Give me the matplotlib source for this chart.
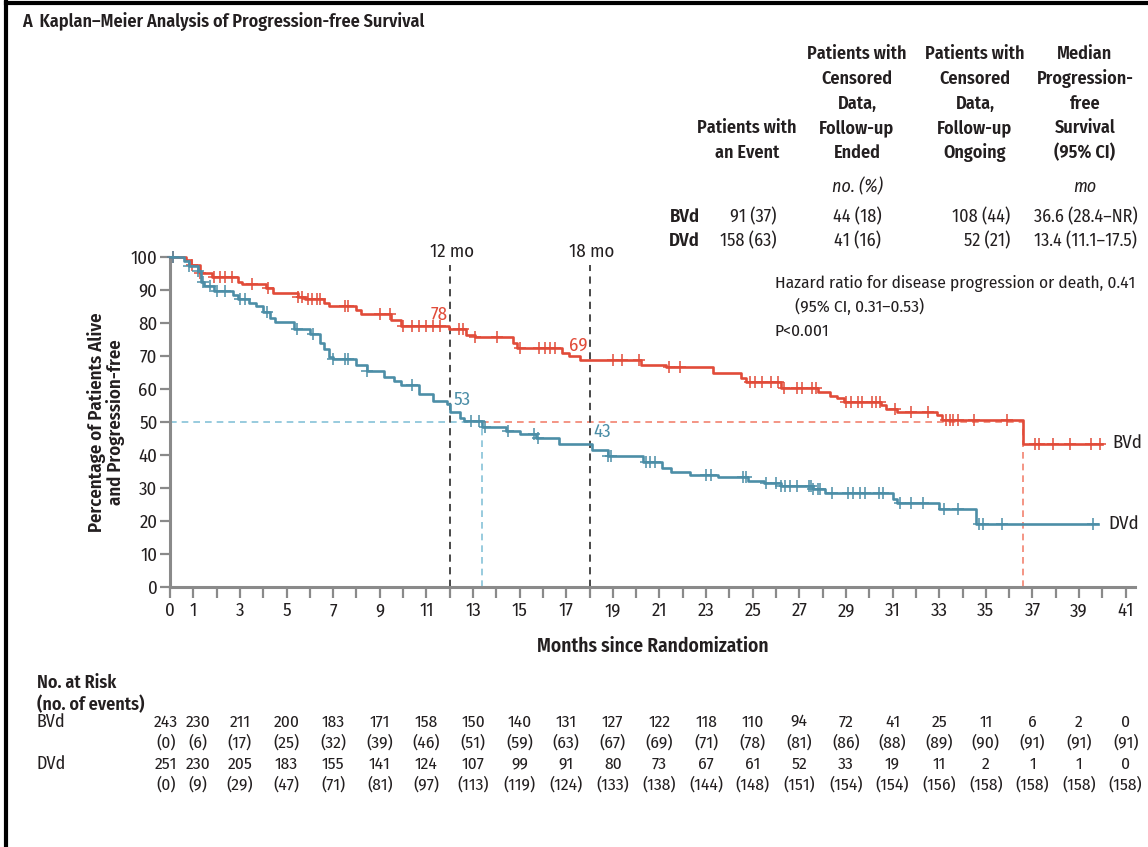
import numpy as np
import matplotlib
matplotlib.use("Agg")
import matplotlib.pyplot as plt
from matplotlib import font_manager
from matplotlib.transforms import blended_transform_factory
from matplotlib.lines import Line2D

# Prefer a condensed humanist face; fall back to Liberation Sans at a smaller size
FAMILY, SCALE = "Liberation Sans", 0.86
for cand in ["Fira Sans Condensed", "Liberation Sans Narrow"]:
    try:
        font_manager.findfont(font_manager.FontProperties(family=cand),
                              fallback_to_default=False)
        FAMILY, SCALE = cand, 1.0
        break
    except ValueError:
        pass
plt.rcParams['font.family'] = [FAMILY, 'Liberation Sans', 'DejaVu Sans']


def fs(size):
    return size * SCALE


# ---- Kaplan–Meier estimates: step times (months) and survival (%) after each step
bvd_times = [0.7, 0.9, 1.3, 1.8, 2.9, 3.1, 4.1, 4.4, 5.5, 5.8, 6.6, 6.8, 8.0, 8.2,
             9.5, 9.9, 11.95, 12.7, 13.1, 14.7, 14.9, 16.8, 17.1, 17.6, 20.2, 21.3,
             23.3, 24.5, 24.7, 26.2, 27.8, 28.3, 28.6, 28.9, 30.5, 30.7, 31.2, 32.9,
             33.1, 36.6]
bvd_surv = [99.2, 97.5, 95.2, 94.0, 92.5, 91.8, 90.6, 89.2, 88.0, 87.2, 86.0, 85.2,
            83.8, 82.8, 80.8, 79.2, 78.2, 76.5, 75.8, 74.0, 72.4, 71.0, 70.0, 68.8,
            67.4, 66.6, 64.8, 63.2, 62.0, 60.4, 59.0, 58.0, 57.2, 56.2, 55.2, 54.0,
            52.9, 52.0, 50.5, 43.3]
bvd_last = 40.0
bvd_censored = [0.15, 0.93, 1.3, 1.9, 2.15, 2.35, 2.65, 3.5, 4.2, 5.5, 5.65, 5.9, 6.1,
                6.3, 6.45, 7.5, 7.65, 9.0, 9.45, 10.0, 10.4, 10.7, 11.0, 11.3, 11.6,
                12.4, 12.55, 13.1, 14.05, 15.0, 15.85, 16.1, 16.3, 16.5, 19.0, 19.4,
                20.1, 21.4, 21.9, 24.9, 25.1, 25.4, 25.8, 26.1, 26.35, 26.9, 27.1,
                27.55, 27.7, 29.0, 29.2, 29.5, 29.7, 30.1, 30.3, 30.45, 31.1, 31.8,
                32.5, 33.3, 33.45, 33.6, 33.8, 34.5, 35.9, 37.1, 37.3, 37.9, 38.6,
                39.5, 39.9]

dvd_times = [0.6, 0.8, 1.2, 1.35, 1.45, 1.9, 2.7, 2.9, 3.4, 3.7, 4.0, 4.3, 4.5, 5.3,
             6.0, 6.45, 6.6, 6.8, 7.0, 8.0, 8.45, 9.2, 9.6, 9.9, 10.7, 11.3, 11.9,
             12.0, 12.45, 12.6, 13.4, 14.4, 15.0, 15.7, 16.7, 18.1, 18.8, 20.3, 21.1,
             21.5, 22.3, 23.5, 24.8, 25.5, 26.2, 27.6, 28.1, 31.0, 31.2, 33.0, 34.6]
dvd_surv = [98.8, 97.2, 95.8, 92.5, 91.3, 89.8, 88.4, 87.4, 86.0, 85.0, 83.2, 81.5,
            80.2, 78.2, 76.6, 74.0, 72.0, 69.8, 69.0, 67.2, 65.5, 63.5, 62.5, 61.2,
            58.4, 56.3, 55.5, 53.0, 51.2, 50.2, 48.6, 47.2, 46.5, 45.2, 43.3, 41.6,
            39.6, 38.0, 36.0, 34.8, 33.8, 33.3, 32.2, 31.6, 30.5, 29.6, 28.6, 26.8,
            25.6, 23.6, 19.0]
dvd_last = 39.8
dvd_censored = [0.15, 0.8, 1.2, 1.4, 1.7, 2.0, 2.35, 3.0, 3.2, 4.15, 5.45, 6.15, 7.0,
                7.5, 7.65, 8.45, 10.4, 12.9, 13.25, 13.5, 14.5, 15.6, 15.8, 18.8, 18.9,
                20.4, 20.6, 20.8, 23.0, 23.2, 24.6, 24.7, 25.55, 26.0, 26.2, 26.4,
                26.6, 26.9, 27.4, 27.5, 27.6, 27.8, 27.9, 28.4, 29.1, 29.3, 29.6, 29.8,
                30.4, 30.6, 31.3, 31.8, 32.3, 33.2, 33.8, 34.7, 34.9, 35.7, 39.6]

landmarks = [12, 18]
medians = {"BVd": 36.6, "DVd": 13.4}

# ---- summary table
table_headers = [
    ["Patients with", "an Event"],
    ["Patients with", "Censored", "Data,", "Follow-up", "Ended"],
    ["Patients with", "Censored", "Data,", "Follow-up", "Ongoing"],
    ["Median", "Progression-", "free", "Survival", "(95% CI)"],
]
table_units = ["", "no. (%)", "", "mo"]
table_groups = ["BVd", "DVd"]
table_events = ["91 (37)", "158 (63)"]
table_cens_ended = ["44 (18)", "41 (16)"]
table_cens_ongoing = ["108 (44)", "52 (21)"]
table_median = ["36.6 (28.4\u2013NR)", "13.4 (11.1\u201317.5)"]

hazard_lines = ["Hazard ratio for disease progression or death, 0.41",
                "(95% CI, 0.31\u20130.53)",
                "P<0.001"]

# ---- numbers at risk
risk_months = [0, 1, 3, 5, 7, 9, 11, 13, 15, 17, 19, 21, 23, 25, 27, 29, 31, 33, 35,
               37, 39, 41]
bvd_at_risk = [243, 230, 211, 200, 183, 171, 158, 150, 140, 131, 127, 122, 118, 110,
               94, 72, 41, 25, 11, 6, 2, 0]
bvd_events = [0, 6, 17, 25, 32, 39, 46, 51, 59, 63, 67, 69, 71, 78, 81, 86, 88, 89,
              90, 91, 91, 91]
dvd_at_risk = [251, 230, 205, 183, 155, 141, 124, 107, 99, 91, 80, 73, 67, 61, 52, 33,
               19, 11, 2, 1, 1, 0]
dvd_events = [0, 9, 29, 47, 71, 81, 97, 113, 119, 124, 133, 138, 144, 148, 151, 154,
              154, 156, 158, 158, 158, 158]

RED = "#E14B39"
BLUE = "#4C8EA7"
RED_LIGHT = "#F2836F"
BLUE_LIGHT = "#86C2D8"
TXT = "#231F20"
AXC = "#8A8A8A"
BOLD = 600

W, H = 1148, 847
fig = plt.figure(figsize=(W / 100, H / 100), dpi=100)


def fx(px):
    return px / W


def fy(py):
    return 1 - py / H


ax = fig.add_axes([fx(170), fy(587), fx(965), 330 / H])
ax.set_xlim(0, 41.4)
ax.set_ylim(0, 100)


def surv_at(times, surv, t):
    i = np.searchsorted(times, t, side="right")
    return 100.0 if i == 0 else surv[i - 1]


curves = [("BVd", bvd_times, bvd_surv, bvd_last, bvd_censored, RED),
          ("DVd", dvd_times, dvd_surv, dvd_last, dvd_censored, BLUE)]

# median reference lines
bm, dm = medians["BVd"], medians["DVd"]
dash = (0, (4, 3))
ax.plot([0, dm], [50, 50], color=BLUE_LIGHT, lw=1.2, ls=dash, zorder=1)
ax.plot([dm, dm], [0, 50], color=BLUE_LIGHT, lw=1.2, ls=dash, zorder=1)
ax.plot([dm, bm], [50, 50], color=RED_LIGHT, lw=1.2, ls=dash, zorder=1)
ax.plot([bm, bm], [0, 50], color=RED_LIGHT, lw=1.2, ls=dash, zorder=1)

# landmark lines
for m in landmarks:
    ax.plot([m, m], [0, 97.5], color="#3a3a3a", lw=1.3, ls=dash, zorder=2,
            clip_on=False)
    ax.text(m + 0.1, 101.5, f"{m} mo", ha="center", va="center", fontsize=fs(13.5),
            color=TXT)

for name, times, surv, last, cens, col in curves:
    xs = [0] + list(times) + [last]
    ys = [100] + list(surv) + [surv[-1]]
    ax.step(xs, ys, where="post", color=col, lw=1.9, zorder=3, clip_on=False)
    cy = [surv_at(times, surv, t) for t in cens]
    ax.plot(cens, cy, ls="none", marker="+", ms=9, mew=1.1, color=col, zorder=3,
            clip_on=False)
    ax.text(last + 0.45, surv[-1] + 0.3, name, ha="left", va="center",
            fontsize=fs(13.5), color=TXT)

# landmark values
for m in landmarks:
    vb = surv_at(bvd_times, bvd_surv, m)
    vd = surv_at(dvd_times, dvd_surv, m)
    ax.text(m - 0.1, vb + 4.3, f"{round(vb)}", ha="right", va="center",
            fontsize=fs(13.5), color=RED)
    ax.text(m + 0.15, vd + 3.6, f"{round(vd)}", ha="left", va="center",
            fontsize=fs(13.5), color=BLUE)

# axes styling
for s in ["top", "right"]:
    ax.spines[s].set_visible(False)
for s in ["left", "bottom"]:
    ax.spines[s].set_color(AXC)
    ax.spines[s].set_linewidth(2.2)
ax.spines["left"].set_bounds(0, 100)
ax.set_yticks(range(0, 101, 10))
ax.set_xticks(risk_months)
ax.set_xticks(range(0, 42), minor=True)
ax.tick_params(axis="both", which="both", color=AXC, width=1.6, labelsize=fs(13.5),
               labelcolor=TXT)
ax.tick_params(axis="x", which="both", length=8, pad=3)
ax.tick_params(axis="y", length=7, pad=2)
ax.set_xlabel("Months since Randomization", fontsize=fs(14), fontweight=BOLD,
              color=TXT, labelpad=12)
fig.text(fx(106), fy(422), "Percentage of Patients Alive\nand Progression-free",
         rotation=90, ha="center", va="center", fontsize=fs(13.5), fontweight=BOLD,
         color=TXT, linespacing=1.05)

# title
fig.text(fx(22), fy(22), "A  Kaplan\u2013Meier Analysis of Progression-free Survival",
         ha="left", va="center", fontsize=fs(13), fontweight=BOLD, color=TXT)

# summary table
col_x = [747, 857, 975, 1085]
line_y = [54, 79, 104, 128, 153]
for cx, lines in zip(col_x, table_headers):
    for ln, py in zip(lines, line_y[-len(lines):]):
        fig.text(fx(cx), fy(py), ln, ha="center", va="center", fontsize=fs(13),
                 fontweight=BOLD, color=TXT)
for cx, u in zip(col_x, table_units):
    if u:
        fig.text(fx(cx), fy(187), u, ha="center", va="center", fontsize=fs(13),
                 style="italic", color=TXT)
for i, g in enumerate(table_groups):
    py = [217, 241][i]
    fig.text(fx(700), fy(py), g, ha="right", va="center", fontsize=fs(13.5),
             fontweight=BOLD, color=TXT)
    fig.text(fx(777), fy(py), table_events[i], ha="right", va="center",
             fontsize=fs(13), color=TXT)
    fig.text(fx(857), fy(py), table_cens_ended[i], ha="center", va="center",
             fontsize=fs(13), color=TXT)
    fig.text(fx(1010), fy(py), table_cens_ongoing[i], ha="right", va="center",
             fontsize=fs(13), color=TXT)
    fig.text(fx(1086), fy(py), table_median[i], ha="center", va="center",
             fontsize=fs(13), color=TXT)

for ln, (px, py) in zip(hazard_lines, [(775, 283), (795, 307), (775, 331)]):
    fig.text(fx(px), fy(py), ln, ha="left", va="center", fontsize=fs(12.5),
             color=TXT)

# numbers at risk
fig.text(fx(37), fy(683), "No. at Risk", ha="left", va="center", fontsize=fs(13),
         fontweight=BOLD, color=TXT)
fig.text(fx(37), fy(705), "(no. of events)", ha="left", va="center",
         fontsize=fs(13), fontweight=BOLD, color=TXT)
fig.text(fx(37), fy(722), "BVd", ha="left", va="center", fontsize=fs(13),
         color=TXT)
fig.text(fx(37), fy(764), "DVd", ha="left", va="center", fontsize=fs(13),
         color=TXT)
tr = blended_transform_factory(ax.transData, fig.transFigure)
rows = [(bvd_at_risk, 722, False), (bvd_events, 743, True),
        (dvd_at_risk, 764, False), (dvd_events, 785, True)]
col_nudge = {0: -0.18, 1: 0.2}   # spread the two crowded leading columns
for vals, py, paren in rows:
    for j, (m, v) in enumerate(zip(risk_months, vals)):
        s = f"({v})" if paren else f"{v}"
        ax.text(m + col_nudge.get(j, 0.0), fy(py), s, transform=tr, ha="center",
                va="center", fontsize=fs(12.5), color=TXT, clip_on=False)

# panel frame on the left and top
fig.add_artist(Line2D([fx(6), fx(6)], [0, 1], color="black", lw=3))
fig.add_artist(Line2D([fx(6), 1], [fy(3), fy(3)], color="black", lw=3))

fig.savefig("out.png", dpi=100)
